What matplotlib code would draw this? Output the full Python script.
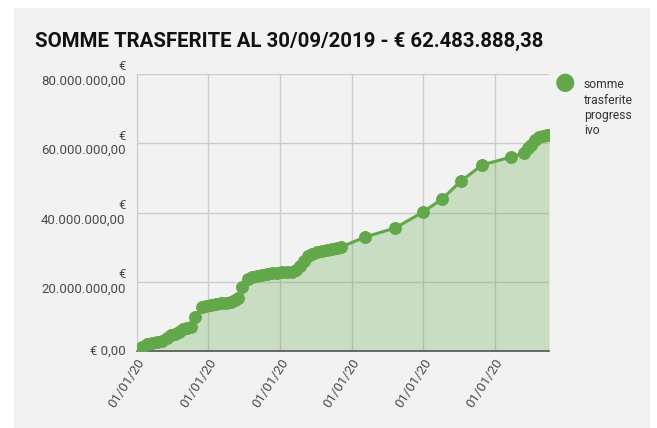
import matplotlib.pyplot as plt
from matplotlib.patches import Rectangle

plt.rcParams['font.family'] = ['Roboto', 'DejaVu Sans']

# progressive transferred sums (millions of euro) vs position on the x axis
x = [0, 7.4, 14.4, 21.4, 28.4, 35.3, 42.3, 47.8, 53.5, 59.1, 64.7, 70.3, 75.8,
     81.4, 91.2, 96.8, 103.8, 110.8, 117.7, 124.7, 131.7, 137.3, 141.5, 147.1,
     155.4, 161.0, 168.0, 175.0, 182.0, 189.0, 196.0, 202.9, 209.9, 216.9,
     222.5, 228.1, 233.7, 239.2, 244.8, 251.8, 258.8, 265.8, 272.8, 279.7,
     285.3, 318.9, 360.8, 399.9, 426.4, 452.9, 482.3, 522.8, 541.0, 546.5,
     550.7, 556.3, 561.9, 567.5, 573.0, 575.8]
y = [0.0, 1.21, 2.08, 2.37, 2.66, 2.94, 3.81, 4.68, 4.96, 5.54, 6.41, 6.70, 6.98,
     9.87, 12.76, 13.04, 13.33, 13.62, 13.91, 13.91, 14.20, 14.78, 15.35, 18.53,
     20.84, 21.41, 21.70, 21.99, 22.28, 22.57, 22.57, 22.86, 22.86, 22.86,
     23.43, 24.59, 26.03, 27.47, 28.05, 28.63, 28.92, 29.21, 29.49, 29.78,
     30.07, 32.96, 35.56, 40.17, 43.93, 49.12, 53.74, 56.05, 57.20, 58.64,
     59.51, 60.95, 61.82, 62.11, 62.40, 62.48]
y = [v * 1e6 for v in y]

x_ticks = [0, 100, 200, 300, 400, 500]
x_labels = ["01/01/20"] * 6
y_ticks = [0, 20e6, 40e6, 60e6, 80e6]
y_labels = ["€ 0,00", "€\n20.000.000,00", "€\n40.000.000,00",
            "€\n60.000.000,00", "€\n80.000.000,00"]

green = '#62a84a'

fig = plt.figure(figsize=(6.57, 4.28), dpi=100)
fig.patches.append(Rectangle((14 / 657, 0), 635 / 657, 420 / 428,
                             transform=fig.transFigure, color='#f2f2f2', zorder=-5))

ax = fig.add_axes([0.2081, 0.1794, 0.6276, 0.6477])
ax.set_facecolor('none')
ax.fill_between(x, y, 0, color=green, alpha=0.28, linewidth=0, zorder=2)
ax.plot(x, y, color=green, linewidth=2.2, marker='o', markersize=8.3, zorder=3)

ax.set_xlim(0, 575.8)
ax.set_ylim(0, 80e6)
ax.set_xticks(x_ticks)
ax.set_xticklabels(x_labels, rotation=57, ha='right', rotation_mode='anchor',
                   fontsize=9.5, color='#4a4a4a')
ax.set_yticks(y_ticks)
ax.set_yticklabels(y_labels, fontsize=9.5, color='#4a4a4a', linespacing=1.15,
                   multialignment='right', va='top')
for lab in ax.get_yticklabels():
    lab.set_verticalalignment('center')
ax.tick_params(length=0, pad=8)
ax.tick_params(axis='x', pad=4)
ax.grid(True, color='#cccccc', linewidth=1, zorder=1)
ax.set_axisbelow(True)
for s in ['top', 'right']:
    ax.spines[s].set_visible(False)
ax.spines['left'].set_color('#cccccc')
ax.spines['bottom'].set_color('#555555')
ax.spines['bottom'].set_linewidth(1.2)

fig.text(35 / 657, 1 - 47 / 428, "SOMME TRASFERITE AL 30/09/2019 - € 62.483.888,38",
         fontsize=14.7, fontweight='bold', color='#111111', va='baseline')

fig.text(565 / 657, 1 - 83 / 428, "●", color=green, fontsize=17, ha='center', va='center')
fig.text(584 / 657, 1 - 78 / 428, "somme\ntrasferite\nprogress\nivo", fontsize=8.7,
         color='#333333', va='top', linespacing=1.25)

plt.savefig("out.png", dpi=100)
